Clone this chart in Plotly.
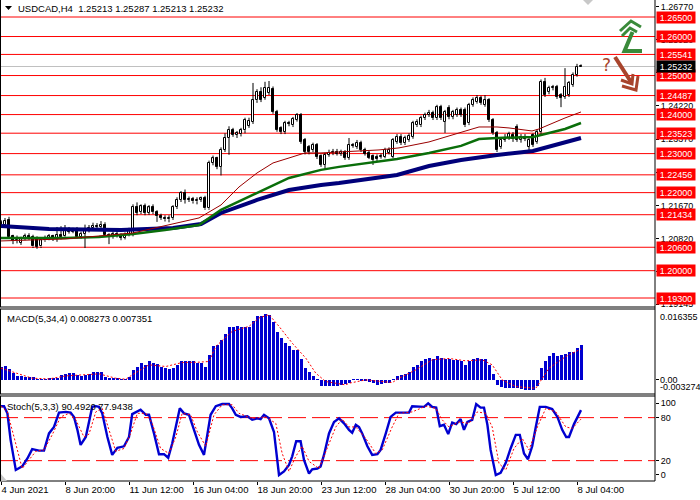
import plotly.graph_objects as go

# ---------------- data ----------------
opens = [1.2117,1.2117,1.2130,1.2088,1.2078,1.2072,1.2083,1.2088,1.2087,1.2080,
         1.2062,1.2078,1.2084,1.2088,1.2082,1.2091,1.2088,1.2105,1.2100,1.2107,
         1.2086,1.2095,1.2104,1.2110,1.2115,1.2112,1.2117,1.2091,1.2088,1.2095,
         1.2090,1.2084,1.2092,1.2094,1.2163,1.2150,1.2165,1.2148,1.2162,1.2150,
         1.2140,1.2136,1.2132,1.2136,1.2163,1.2181,1.2199,1.2181,1.2184,1.2178,
         1.2182,1.2186,1.2160,1.2276,1.2288,1.2266,1.2310,1.2340,1.2361,1.2348,
         1.2350,1.2360,1.2372,1.2382,1.2437,1.2458,1.2443,1.2456,1.2466,1.2407,
         1.2365,1.2356,1.2378,1.2373,1.2386,1.2399,1.2335,1.2317,1.2309,1.2322,
         1.2294,1.2271,1.2297,1.2302,1.2304,1.2300,1.2304,1.2289,1.2322,1.2317,
         1.2327,1.2309,1.2302,1.2294,1.2292,1.2292,1.2292,1.2302,1.2292,1.2330,
         1.2343,1.2327,1.2335,1.2343,1.2373,1.2373,1.2391,1.2399,1.2404,1.2391,
         1.2419,1.2381,1.2417,1.2394,1.2399,1.2412,1.2412,1.2378,1.2425,1.2432,
         1.2443,1.2425,1.2437,1.2386,1.2353,1.2317,1.2335,1.2340,1.2348,1.2368,
         1.2335,1.2343,1.2317,1.2348,1.2330,1.2355,1.2484,1.2458,1.2468,1.2471,
         1.2450,1.2445,1.2450,1.2476,1.2502,1.25213]
highs = [1.2130,1.2135,1.2138,1.2092,1.2090,1.2087,1.2095,1.2096,1.2092,1.2088,
         1.2083,1.2090,1.2094,1.2092,1.2112,1.2114,1.2117,1.2112,1.2110,1.2112,
         1.2100,1.2118,1.2117,1.2123,1.2122,1.2127,1.2124,1.2096,1.2100,1.2102,
         1.2096,1.2098,1.2110,1.2170,1.2175,1.2170,1.2172,1.2168,1.2170,1.2155,
         1.2146,1.2142,1.2142,1.2168,1.2188,1.2204,1.2208,1.2190,1.2189,1.2188,
         1.2190,1.2192,1.2282,1.2295,1.2292,1.2316,1.2352,1.2370,1.2366,1.2358,
         1.2366,1.2392,1.2392,1.2481,1.2465,1.2470,1.2484,1.2486,1.2472,1.2412,
         1.2370,1.2384,1.2384,1.2394,1.2404,1.2404,1.2340,1.2322,1.2328,1.2327,
         1.2298,1.2302,1.2310,1.2312,1.2312,1.2310,1.2309,1.2340,1.2327,1.2335,
         1.2333,1.2315,1.2307,1.2298,1.2298,1.2300,1.2315,1.2316,1.2340,1.2350,
         1.2350,1.2346,1.2352,1.2384,1.2388,1.2397,1.2405,1.2412,1.2410,1.2425,
         1.2425,1.2412,1.2424,1.2412,1.2418,1.2418,1.2418,1.2430,1.2444,1.2450,
         1.2448,1.2450,1.2442,1.2391,1.2358,1.2340,1.2350,1.2356,1.2355,1.2375,
         1.2350,1.2350,1.2342,1.2352,1.2362,1.2490,1.2494,1.2474,1.2476,1.2476,
         1.2455,1.2519,1.2486,1.2508,1.2530,1.25287]
lows = [1.2112,1.2113,1.2082,1.2068,1.2070,1.2066,1.2078,1.2079,1.2058,1.2056,
        1.2058,1.2074,1.2078,1.2076,1.2074,1.2080,1.2084,1.2095,1.2096,1.2082,
        1.2082,1.2058,1.2098,1.2105,1.2106,1.2106,1.2087,1.2068,1.2082,1.2085,
        1.2078,1.2080,1.2088,1.2088,1.2142,1.2145,1.2142,1.2143,1.2145,1.2125,
        1.2130,1.2126,1.2124,1.2130,1.2158,1.2176,1.2172,1.2176,1.2172,1.2170,
        1.2176,1.2156,1.2156,1.2270,1.2260,1.2244,1.2304,1.2297,1.2343,1.2340,
        1.2344,1.2352,1.2366,1.2376,1.2430,1.2432,1.2438,1.2450,1.2402,1.2356,
        1.2350,1.2350,1.2370,1.2368,1.2382,1.2325,1.2298,1.2298,1.2304,1.2286,
        1.2266,1.2258,1.2292,1.2296,1.2295,1.2294,1.2284,1.2284,1.2315,1.2312,
        1.2304,1.2295,1.2286,1.2271,1.2280,1.2287,1.2288,1.2298,1.2288,1.2325,
        1.2322,1.2322,1.2330,1.2338,1.2368,1.2368,1.2386,1.2394,1.2386,1.2386,
        1.2386,1.2353,1.2388,1.2388,1.2394,1.2394,1.2368,1.2373,1.2420,1.2428,
        1.2425,1.2420,1.2381,1.2348,1.2304,1.2312,1.2330,1.2335,1.2330,1.2330,
        1.2328,1.2332,1.2309,1.2317,1.2325,1.2350,1.2445,1.2452,1.2462,1.2440,
        1.2419,1.2440,1.2445,1.2471,1.2497,1.25213]
closes = [1.2125,1.2127,1.2086,1.2076,1.2084,1.2083,1.2088,1.2084,1.2062,1.2061,
          1.2078,1.2084,1.2088,1.2082,1.2091,1.2087,1.2105,1.2100,1.2105,1.2086,
          1.2095,1.2104,1.2110,1.2115,1.2112,1.2118,1.2091,1.2088,1.2095,1.2090,
          1.2084,1.2092,1.2102,1.2163,1.2148,1.2165,1.2148,1.2162,1.2150,1.2140,
          1.2136,1.2132,1.2136,1.2163,1.2181,1.2199,1.2181,1.2184,1.2178,1.2182,
          1.2185,1.2160,1.2276,1.2288,1.2266,1.2310,1.2340,1.2361,1.2348,1.2352,
          1.2360,1.2386,1.2384,1.2437,1.2458,1.2438,1.2468,1.2468,1.2407,1.2361,
          1.2356,1.2378,1.2376,1.2389,1.2399,1.2330,1.2304,1.2304,1.2322,1.2292,
          1.2271,1.2297,1.2302,1.2304,1.2300,1.2304,1.2289,1.2322,1.2320,1.2327,
          1.2309,1.2300,1.2290,1.2284,1.2286,1.2294,1.2309,1.2309,1.2335,1.2343,
          1.2327,1.2340,1.2345,1.2378,1.2381,1.2391,1.2399,1.2404,1.2391,1.2419,
          1.2391,1.2407,1.2394,1.2407,1.2412,1.2399,1.2373,1.2425,1.2437,1.2443,
          1.2430,1.2437,1.2386,1.2353,1.2309,1.2335,1.2340,1.2350,1.2338,1.2335,
          1.2343,1.2338,1.2335,1.2322,1.2355,1.2484,1.2450,1.2468,1.2470,1.2445,
          1.2443,1.2471,1.2481,1.2502,1.2522,1.25232]

# moving averages, read at sample bars
ma_red_x = [0,12,16,33,41,49.5,55,59.5,64,68,72,76,80,84.5,94.5,99.5,107,114.5,119.5,124,127,132.75,134.5,141,145]
ma_red_y = [1.20762,1.20787,1.20813,1.20966,1.21146,1.21351,1.21684,1.22145,1.22503,1.22760,1.22888,
            1.23017,1.23017,1.23043,1.23094,1.23146,1.23299,1.23529,1.23682,1.23682,1.23657,1.23580,
            1.23631,1.23913,1.24067]
ma_green_x = [0,16,24.5,33,41,49.5,55,64,72,80,84.5,99,107,115,119.5,124,133,137,141,145]
ma_green_y = [1.20838,1.20838,1.20864,1.20941,1.21044,1.21171,1.21556,1.21991,1.22376,1.22583,1.22660,
              1.22864,1.23017,1.23197,1.23375,1.23401,1.23427,1.23529,1.23631,1.23785]
ma_blue_x = [0,7,12,30,36,43,50,55,64,72,80,84.5,99,107,115,124,133,137,141,145]
ma_blue_y = [1.21146,1.21095,1.21069,1.21044,1.21069,1.21095,1.21197,1.21479,1.21812,1.22068,1.22196,
             1.22248,1.22452,1.22683,1.22838,1.22966,1.23068,1.23171,1.23299,1.23401]

levels = [1.26500,1.26000,1.25541,1.25000,1.24487,1.24000,1.23523,1.23000,1.22456,1.22000,
          1.21434,1.20600,1.20000,1.19300]
price_ticks = [1.26770,1.25920,1.25070,1.24220,1.23370,1.22520,1.21670,1.20820,1.19970,1.19145]
last_price = 1.25232

macd_hist = [0.00302,0.00334,0.00254,0.00175,0.00103,0.00095,0.00079,0.00079,0.00064,0.00016,
             0.00016,0.00016,0.00024,0.00032,0.00040,0.00119,0.00143,0.00159,0.00159,0.00119,
             0.00095,0.00119,0.00143,0.00191,0.00191,0.00183,0.00079,0.00056,0.00048,0.00024,
             0.00016,0.00016,0.00079,0.00238,0.00318,0.00397,0.00358,0.00437,0.00413,0.00382,
             0.00318,0.00278,0.00254,0.00278,0.00358,0.00453,0.00453,0.00453,0.00437,0.00413,
             0.00397,0.00302,0.00596,0.00795,0.00835,0.00938,0.01097,0.01248,0.01248,0.01272,
             0.01256,0.01256,0.01256,0.01407,0.01526,0.01526,0.01574,0.01550,0.01367,0.01129,
             0.00993,0.00874,0.00795,0.00715,0.00699,0.00501,0.00278,0.00183,0.00103,0.00016,
             -0.00143,-0.00143,-0.00143,-0.00143,-0.00135,-0.00127,-0.00103,-0.00079,0.00016,0.00005,
             -0.00003,-0.00016,-0.00040,-0.00079,-0.00119,-0.00103,-0.00079,-0.00079,0.00002,0.00095,
             0.00119,0.00135,0.00199,0.00302,0.00358,0.00453,0.00501,0.00517,0.00493,0.00556,
             0.00509,0.00493,0.00493,0.00477,0.00469,0.00453,0.00350,0.00453,0.00493,0.00517,
             0.00493,0.00493,0.00358,0.00143,-0.00119,-0.00159,-0.00199,-0.00199,-0.00199,-0.00199,
             -0.00215,-0.00238,-0.00238,-0.00238,-0.00143,0.00278,0.00453,0.00556,0.00636,0.00572,
             0.00596,0.00620,0.00652,0.00660,0.00755,0.008273]
macd_sig_x = [0,3.7,7.8,12,16.2,20.3,24.5,28.7,31.2,32.8,37,41.2,45.3,49.5,52,53.7,57.8,62,64.5,67,
              69.5,72.8,76.2,78.7,81.2,86.2,87,91.2,95.3,97.8,99.5,103.7,107.8,112,116.2,120.3,122.8,
              125.3,128.7,133.7,137,141.2,145]
macd_sig_y = [0.00278,0.00159,0.00040,0.00024,0.00095,0.00119,0.00143,0.00040,0.00016,0.00119,0.00358,
              0.00318,0.00413,0.00421,0.00437,0.00795,0.01152,0.01272,0.01470,0.01550,0.01272,0.00874,
              0.00517,0.00159,-0.00040,-0.00119,-0.00079,0.0,-0.00040,-0.00064,0.00040,0.00238,0.00477,
              0.00509,0.00453,0.00477,0.00358,0.0,-0.00159,-0.00199,0.00278,0.00556,0.007351]

stoch_k_x = [0,0.75,1.6,2.4,3.7,5.3,6.6,7.8,9.5,10.75,12,13.25,14.5,16.2,17.4,18.25,19.1,19.9,21.2,22,
             22.8,23.7,24.5,25.3,26.6,27.8,29.1,30.75,32,32.8,33.7,34.9,36.2,37,38.25,39.5,40.75,41.8,
             42.8,43.7,44.7,45.75,47,48.25,49.5,50.75,51.6,52.4,53.7,55.3,57,57.8,58.7,59.9,61.6,62.8,
             64.1,64.9,65.75,67,68.25,69.5,70.75,72,72.8,73.8,74.9,75.75,77,77.8,79.1,79.9,80.75,82,
             83.25,84.5,85.75,87,87.8,88.7,89.5,90.3,91.6,92.8,94.1,94.9,96.2,97.4,98.7,100.3,102,102.8,
             104.5,105.75,106.8,107.8,108.8,109.7,110.75,111.8,112.8,113.8,114.9,115.75,116.6,117.8,
             118.8,119.9,120.75,121.6,122.4,123.7,124.9,126.2,127.4,128.7,129.7,130.75,131.75,132.8,
             133.7,134.7,136.2,137.8,139.1,140.3,141.3,142,143.25,145]
stoch_k_y = [96,96,86,49,7,12,23,36,34,34,58,67,87,88,87,81,63,42,53,72,
             95,96,95,86,53,28,38,40,53,85,88,91,84,84,58,29,29,24,
             44,67,93,86,84,63,42,28,58,84,96,99,99,93,84,81,82,77,
             79,78,84,79,60,0,5,14,26,47,47,21,2,8,9,12,28,58,
             74,79,72,63,59,70,67,58,40,28,29,35,58,81,87,87,87,96,
             95,95,100,95,94,68,70,57,73,71,78,63,74,77,
             99,94,94,70,35,0,3,17,37,56,56,30,22,40,
             67,95,95,92,81,63,53,53,71,90.492]
stoch_d_x = [0,1.6,3.25,5.3,7,8.7,10.75,12.8,14.9,17,18.7,20.75,22,23.7,25.3,27,28.7,30.75,32.4,34.1,
             36.2,37.8,39.9,42,43.7,45.3,47.4,49.1,51.2,53.25,55.3,57.8,59.5,62.8,66.2,68.7,70.3,72,
             73.7,75.3,77,79.5,81.6,83.7,85.3,87,88.7,91.2,93.7,95.3,97.8,99.5,102.8,106.2,108.7,110.3,
             112,114.5,117,119.1,121.2,122.8,124.5,126.2,128.25,130.3,132,134.1,136.2,138.7,141.2,142.8,145]
stoch_d_y = [96,88,53,9,21,33,35,56,81,86,77,53,57,88,93,63,33,37,58,86,
             86,72,37,30,53,86,84,60,40,84,98,98,86,79,81,72,30,5,
             26,40,19,9,37,67,78,67,67,51,30,35,67,86,88,96,93,77,
             67,74,72,88,86,67,16,7,37,51,35,67,93,88,67,65,77.9438]

date_ticks = [0,16,32,48,64,80,96,112,128,144]
date_labels = ["4 Jun 2021","8 Jun 20:00","11 Jun 12:00","16 Jun 04:00","18 Jun 20:00",
               "23 Jun 12:00","28 Jun 04:00","30 Jun 20:00","5 Jul 12:00","8 Jul 04:00"]

title_text = "USDCAD,H4  1.25213 1.25287 1.25213 1.25232"
macd_text = "MACD(5,34,4) 0.008273 0.007351"
stoch_text = "Stoch(5,3,3) 90.4920 77.9438"

# ---------------- figure ----------------
W, H = 700, 500
FONT = "Liberation Sans"
PX = 655  # right edge of plot area (pixels)

def px(x):
    return x / W

def py(y):
    return 1 - y / H

idx = list(range(len(closes)))
fig = go.Figure()

# wicks (upper and lower parts, so they don't cross the body)
wx, wy = [], []
for i, o, h, l, c in zip(idx, opens, highs, lows, closes):
    top, bot = max(o, c), min(o, c)
    wx += [i, i, None, i, i, None]
    wy += [h, top, None, bot, l, None]
fig.add_trace(go.Scatter(x=wx, y=wy, mode="lines", line=dict(color="black", width=1),
                         hoverinfo="skip", showlegend=False, xaxis="x", yaxis="y"))

# bodies
base = [min(o, c) for o, c in zip(opens, closes)]
height = [max(abs(c - o), 0.00004) for o, c in zip(opens, closes)]
fill = ["white" if c >= o else "black" for o, c in zip(opens, closes)]
fig.add_trace(go.Bar(x=idx, y=height, base=base, width=0.55,
                     marker=dict(color=fill, line=dict(color="black", width=1)),
                     showlegend=False, xaxis="x", yaxis="y"))

# moving averages
fig.add_trace(go.Scatter(x=ma_blue_x, y=ma_blue_y, mode="lines", line=dict(color="#00007a", width=4),
                         showlegend=False, xaxis="x", yaxis="y"))
fig.add_trace(go.Scatter(x=ma_green_x, y=ma_green_y, mode="lines", line=dict(color="#0a6e0a", width=2.5),
                         showlegend=False, xaxis="x", yaxis="y"))
fig.add_trace(go.Scatter(x=ma_red_x, y=ma_red_y, mode="lines", line=dict(color="#9a0000", width=1),
                         showlegend=False, xaxis="x", yaxis="y"))

# MACD
fig.add_trace(go.Bar(x=idx, y=macd_hist, width=0.75, marker=dict(color="#0000d0", line=dict(width=0)),
                     showlegend=False, xaxis="x", yaxis="y2"))
fig.add_trace(go.Scatter(x=macd_sig_x, y=macd_sig_y, mode="lines",
                         line=dict(color="red", width=1, dash="2px,2px"),
                         showlegend=False, xaxis="x", yaxis="y2"))

# Stochastic
fig.add_trace(go.Scatter(x=stoch_k_x, y=stoch_k_y, mode="lines", line=dict(color="#0000d0", width=2.4),
                         showlegend=False, xaxis="x", yaxis="y3"))
fig.add_trace(go.Scatter(x=stoch_d_x, y=stoch_d_y, mode="lines",
                         line=dict(color="red", width=1, dash="2px,2px"),
                         showlegend=False, xaxis="x", yaxis="y3"))

shapes = []
# red level lines
for lv in levels:
    shapes.append(dict(type="line", xref="paper", x0=0, x1=px(PX), yref="y", y0=lv, y1=lv,
                       line=dict(color="red", width=1), layer="below"))
# current price line
shapes.append(dict(type="line", xref="paper", x0=0, x1=px(PX), yref="y", y0=last_price, y1=last_price,
                   line=dict(color="#c0c0c0", width=1), layer="below"))
# stoch 80 / 20 dashed
for lv in [80, 20]:
    shapes.append(dict(type="line", xref="paper", x0=0, x1=px(PX), yref="y3", y0=lv, y1=lv,
                       line=dict(color="red", width=1, dash="18px,6px"), layer="below"))
# panel frames
for (y0, y1) in [(0, 307), (309, 394), (396, 481)]:
    shapes.append(dict(type="line", xref="paper", yref="paper", x0=px(0.5), x1=px(0.5), y0=py(y0), y1=py(y1),
                       line=dict(color="black", width=1)))
    shapes.append(dict(type="line", xref="paper", yref="paper", x0=0, x1=px(PX), y0=py(y1), y1=py(y1),
                       line=dict(color="black", width=1)))
    if y0 > 0:
        shapes.append(dict(type="line", xref="paper", yref="paper", x0=0, x1=px(PX), y0=py(y0), y1=py(y0),
                           line=dict(color="black", width=1)))
shapes.append(dict(type="line", xref="paper", yref="paper", x0=px(PX), x1=px(PX), y0=py(0), y1=py(481),
                   line=dict(color="black", width=1)))

def path(points, close=False):
    s = "M " + " L ".join(f"{px(x):.5f},{py(y):.5f}" for x, y in points)
    return s + (" Z" if close else "")

# title triangle
shapes.append(dict(type="path", xref="paper", yref="paper", path=path([(5, 6), (12, 6), (8.5, 10)], True),
                   fillcolor="black", line=dict(width=0)))
# chart-shift triangle at the top
shapes.append(dict(type="path", xref="paper", yref="paper", path=path([(583, 0), (593, 0), (588, 5)], True),
                   fillcolor="#c8c8c8", line=dict(width=0)))
# small gray corner triangle
shapes.append(dict(type="path", xref="paper", yref="paper", path=path([(1, 474), (1, 481), (7, 481)], True),
                   fillcolor="#c8c8c8", line=dict(width=0)))
# green "up" arrow
g = "#3a8a3a"
shapes.append(dict(type="path", xref="paper", yref="paper",
                   path=path([(642, 51), (624.5, 51), (632.5, 32)]), line=dict(color=g, width=4)))
shapes.append(dict(type="path", xref="paper", yref="paper",
                   path=path([(620, 31), (631, 21), (641, 27)]), line=dict(color=g, width=3)))
shapes.append(dict(type="path", xref="paper", yref="paper",
                   path=path([(622, 36), (630, 28), (637, 32)]), line=dict(color=g, width=3)))
# brown "down" arrow
b = "#a8442c"
shapes.append(dict(type="path", xref="paper", yref="paper",
                   path=path([(615, 57), (631, 82)]), line=dict(color=b, width=4)))
shapes.append(dict(type="path", xref="paper", yref="paper",
                   path=path([(622, 86), (636, 90), (638, 76)]), line=dict(color=b, width=3)))
shapes.append(dict(type="path", xref="paper", yref="paper",
                   path=path([(621, 80), (632, 84), (633, 74)]), line=dict(color=b, width=3)))

annotations = []
annotations.append(dict(text=title_text, xref="paper", yref="paper", x=px(16), y=py(8),
                        xanchor="left", yanchor="middle", showarrow=False,
                        font=dict(family=FONT, size=9.5, color="black")))
annotations.append(dict(text=macd_text, xref="paper", yref="paper", x=px(5), y=py(318),
                        xanchor="left", yanchor="middle", showarrow=False,
                        font=dict(family=FONT, size=9.5, color="black")))
annotations.append(dict(text=stoch_text, xref="paper", yref="paper", x=px(5), y=py(406),
                        xanchor="left", yanchor="middle", showarrow=False,
                        font=dict(family=FONT, size=9.5, color="black")))
annotations.append(dict(text="?", xref="paper", yref="paper", x=px(606), y=py(65),
                        xanchor="center", yanchor="middle", showarrow=False,
                        font=dict(family="DejaVu Sans", size=17, color=b)))
# level labels
for lv in levels:
    annotations.append(dict(text=f"{lv:.5f}", xref="paper", yref="y", x=px(656), y=lv,
                            xanchor="left", yanchor="middle", showarrow=False, width=38, height=11,
                            bgcolor="red", borderpad=0, align="center",
                            font=dict(family=FONT, size=9, color="white")))
annotations.append(dict(text=f"{last_price:.5f}", xref="paper", yref="y", x=px(656), y=last_price,
                        xanchor="left", yanchor="middle", showarrow=False, width=38, height=11,
                        bgcolor="black", borderpad=0, align="center",
                        font=dict(family=FONT, size=9, color="white")))
# MACD scale labels
for txt, yy in [("0.016355", 317), ("0.00", 380), ("-0.003274", 387)]:
    annotations.append(dict(text=txt, xref="paper", yref="paper", x=px(658), y=py(yy),
                            xanchor="left", yanchor="middle", showarrow=False,
                            font=dict(family=FONT, size=9, color="black")))

fig.update_layout(
    width=W, height=H, margin=dict(l=0, r=0, t=0, b=0, autoexpand=False),
    paper_bgcolor="white", plot_bgcolor="white", barmode="overlay", bargap=0,
    showlegend=False, shapes=shapes, annotations=annotations, hovermode=False,
    xaxis=dict(domain=[0, px(PX)], range=[-0.25, 163.5], anchor="y3", automargin=False,
               tickmode="array", tickvals=date_ticks, ticktext=date_labels,
               ticks="outside", ticklen=3, tickcolor="black", ticklabelposition="outside right",
               showgrid=False, zeroline=False, showline=False,
               tickfont=dict(family=FONT, size=9.5, color="black")),
    yaxis=dict(domain=[py(306), py(1)], range=[1.19095, 1.26910], side="right", anchor="x",
               automargin=False,
               tickmode="array", tickvals=price_ticks, ticktext=[f"{v:.5f}" for v in price_ticks],
               ticks="outside", ticklen=3, tickcolor="black", showgrid=False, zeroline=False,
               tickfont=dict(family=FONT, size=9, color="black")),
    yaxis2=dict(domain=[py(394), py(310)], range=[-0.00335, 0.0166], side="right", anchor="x",
                automargin=False,
                tickmode="array", tickvals=[0], showticklabels=False,
                ticks="outside", ticklen=3, tickcolor="black", showgrid=False, zeroline=False),
    yaxis3=dict(domain=[py(481), py(396)], range=[-8.4, 110.2], side="right", anchor="x",
                automargin=False,
                tickmode="array", tickvals=[0, 20, 80, 100], ticktext=["0", "20", "80", "100"],
                ticks="outside", ticklen=3, tickcolor="black", showgrid=False, zeroline=False,
                tickfont=dict(family=FONT, size=9, color="black")),
)

fig.write_html("out.html", config={"displayModeBar": False},
               post_script="document.body.style.margin='0';document.body.style.padding='0';")
